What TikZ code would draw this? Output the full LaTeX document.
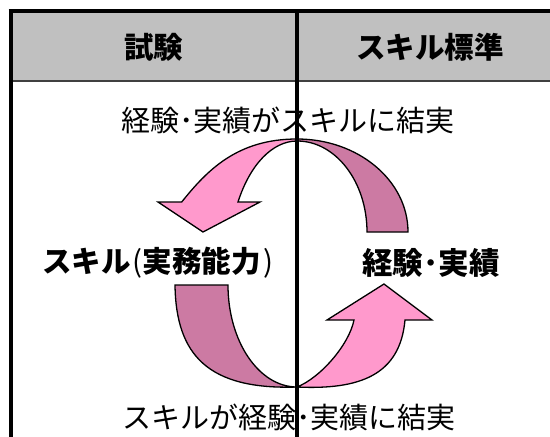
\documentclass[tikz,border=0pt]{standalone}
\usepackage{fontspec}
\setmainfont{Noto Sans CJK JP}
\definecolor{hdrgray}{RGB}{192,192,192}
\definecolor{hdrline}{RGB}{64,64,64}
\definecolor{lpink}{RGB}{255,153,204}
\definecolor{dpink}{RGB}{204,122,163}
\tikzset{
  band/.style={draw=black, line width=1.3pt, line join=miter},
  tline/.style={draw=black, line width=3.5pt},
  lbl/.style={inner sep=0pt, anchor=center, font=\fontsize{29}{34}\selectfont},
  blbl/.style={lbl, font=\fontsize{29.5}{34}\selectfont\bfseries},
}
\begin{document}
\begin{tikzpicture}[x=1pt, y=-1pt]
\useasboundingbox (0,0) rectangle (550,437);
% table
\fill[hdrgray] (10.5,11) rectangle (565,81);
\draw[hdrline, line width=2pt] (10.5,81) -- (565,81);
\draw[tline] (8.5,11) -- (565,11);
\draw[tline, line width=4pt] (10.5,9) -- (10.5,445);
\coordinate (vtop) at (297,9);
\coordinate (vbot) at (297,445);
% header text
\node[blbl] (h1) at (154,47) {試験};
\node[blbl] (h2) at (430,47) {スキル標準};
% top arrow: dark band (back)
\path[band, fill=dpink] (297,139) arc[start angle=270, end angle=360, x radius=111, y radius=93]
  -- (367,232) arc[start angle=360, end angle=270, x radius=70, y radius=91] -- cycle;
% top arrow: pink band with head (front)
\path[band, fill=lpink] (297,139) .. controls (237,139) and (207,170.5) .. (181.7,202)
  -- (158,202) -- (203,232) -- (260,202) -- (238,202)
  arc[start angle=209.73, end angle=270, x radius=68, y radius=121] -- cycle;
% bottom arrow: dark band (back)
\path[band, fill=dpink] (175,285) -- (228,285)
  arc[start angle=180, end angle=90, x radius=69, y radius=102]
  .. controls (208,390) and (176,355) .. (175,285) -- cycle;
% bottom arrow: pink band with head (front)
\path[band, fill=lpink] (297,387) .. controls (360,390) and (400,375) .. (405,320)
  -- (432,320) -- (384,284) -- (327,320) -- (354,320)
  .. controls (349,345) and (320,378) .. (297,387) -- cycle;
% middle vertical line
\draw[tline] (vtop) -- (vbot);
% labels
\node[lbl] (t1) at (288,120) {経験･実績がスキルに結実};
\node[blbl] (l1) at (158,263) {スキル\kern2pt{\mdseries(}実務能力\kern3pt{\mdseries)}};
\node[blbl, font=\fontsize{30.5}{34}\selectfont\bfseries] (l2) at (431,263) {経験･実績};
\node[lbl] (t2) at (289,417) {スキルが経験･実績に結実};
\end{tikzpicture}
\end{document}
